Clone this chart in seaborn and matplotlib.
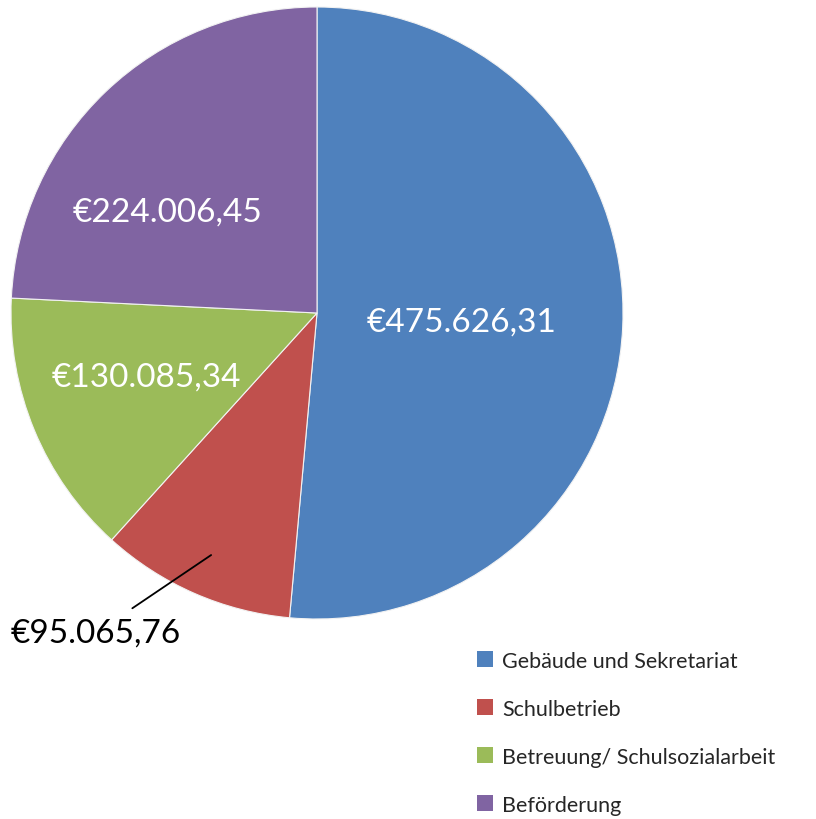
import matplotlib
matplotlib.use("Agg")
import matplotlib.pyplot as plt
import seaborn as sns
from matplotlib.patches import Patch

# data
categories = ["Gebäude und Sekretariat", "Schulbetrieb",
              "Betreuung/ Schulsozialarbeit", "Beförderung"]
values = [475626.31, 95065.76, 130085.34, 224006.45]
value_labels = ["€475.626,31", "€95.065,76", "€130.085,34", "€224.006,45"]
colors = ["#4F81BD", "#C0504D", "#9BBB59", "#8064A2"]

sns.set_theme(style="white")
plt.rcParams["font.family"] = ["Lato", "DejaVu Sans"]

fig = plt.figure(figsize=(8.16, 8.2), dpi=100)
ax = fig.add_axes([11 / 816, 200 / 820, 612 / 816, 612 / 820])

wedges, _ = ax.pie(values, colors=colors, startangle=90, counterclock=False,
                   radius=1, wedgeprops=dict(edgecolor="#f2f2f2", linewidth=0.8))
ax.set_xlim(-1, 1)
ax.set_ylim(-1, 1)
ax.set_aspect("equal")
ax.axis("off")

# labels inside slices
ax.text(0.474, -0.029, value_labels[0], color="white", fontsize=24,
        ha="center", va="center")
ax.text(-0.487, 0.333, value_labels[3], color="white", fontsize=24,
        ha="center", va="center")
ax.text(-0.559, -0.209, value_labels[2], color="white", fontsize=24,
        ha="center", va="center")
# outside label for the small slice
ax.annotate(value_labels[1], xy=(-0.346, -0.791), xytext=(-0.722, -1.045),
            color="black", fontsize=24, ha="center", va="center",
            annotation_clip=False,
            arrowprops=dict(arrowstyle="-", color="black", lw=1.3,
                            shrinkA=8, shrinkB=0))

handles = [Patch(facecolor=c, edgecolor="none") for c in colors]
fig.legend(handles, categories, loc="upper left",
           bbox_to_anchor=(468 / 816, 1 - 643 / 820), frameon=False,
           fontsize=15.5, handlelength=0.75, handleheight=0.75,
           handletextpad=0.45, labelspacing=1.3, borderaxespad=0)

fig.savefig("out.png", dpi=100)
